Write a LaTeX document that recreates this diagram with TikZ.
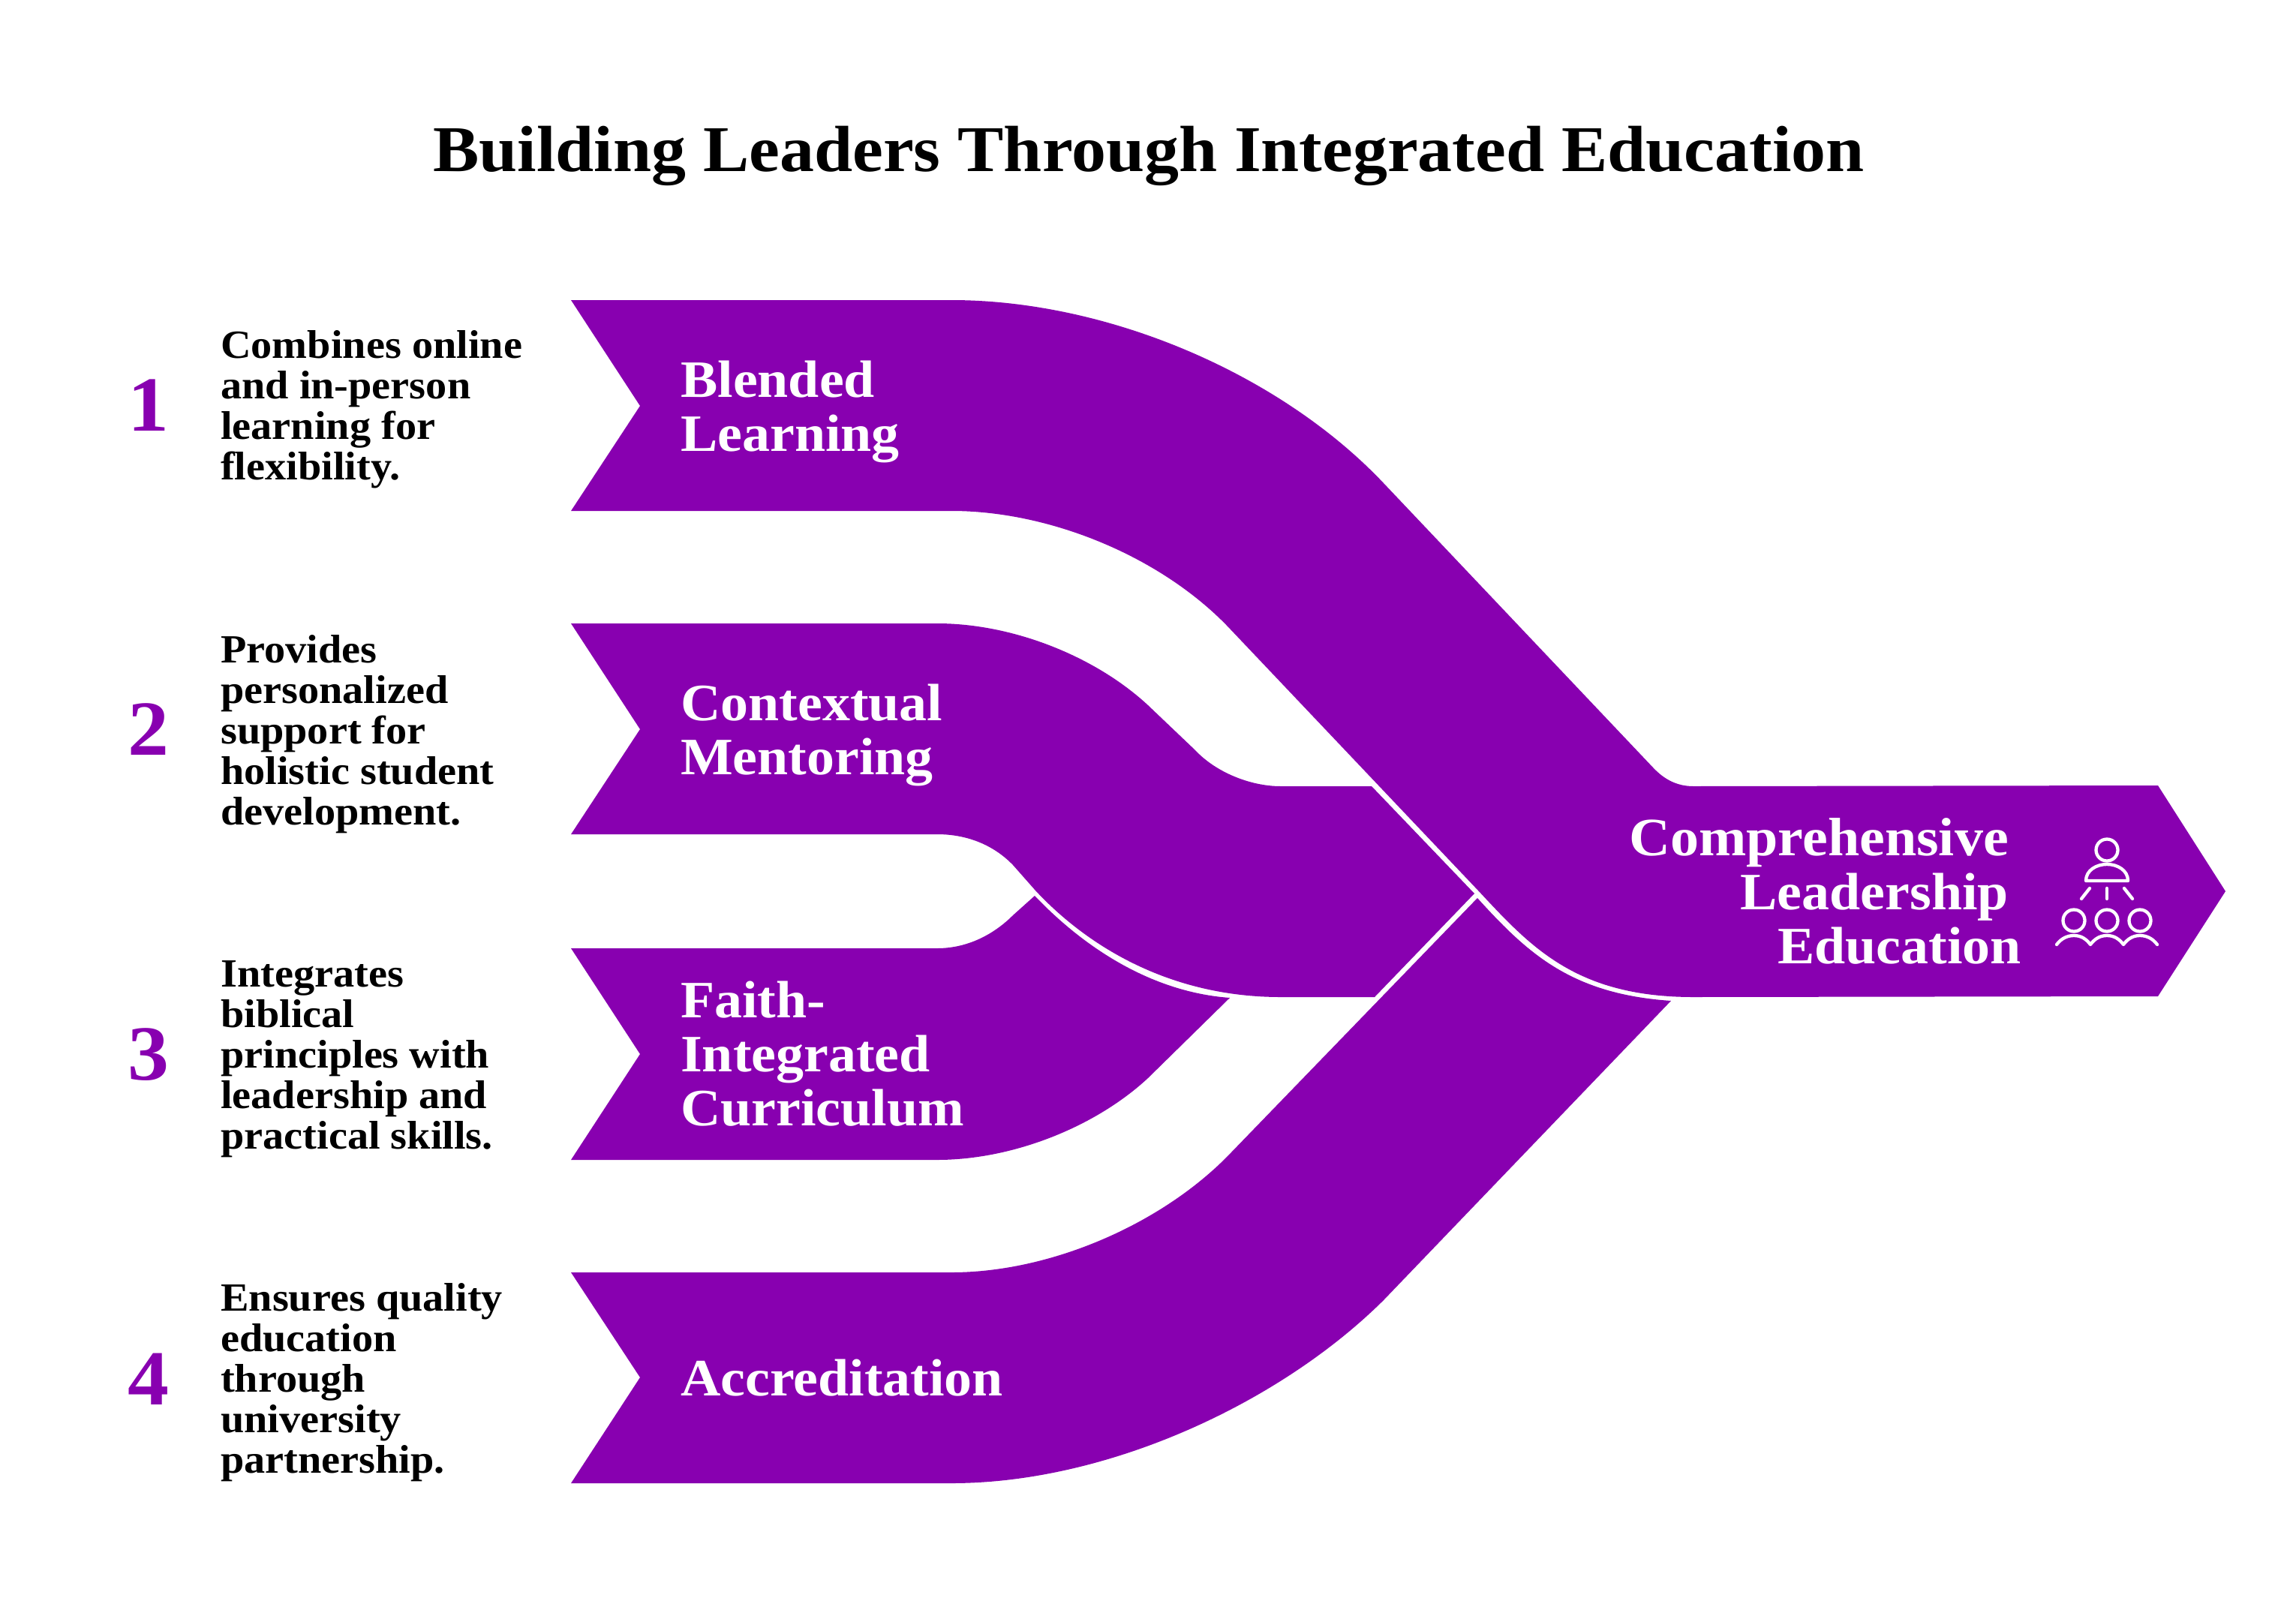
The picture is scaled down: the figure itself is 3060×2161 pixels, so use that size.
\documentclass[tikz,border=0pt]{standalone}
\usepackage{fontspec}
\setmainfont{Liberation Serif}[FakeStretch=1.056]
\definecolor{violetfill}{HTML}{8800B0}
\newcommand{\firstln}{\rule{0pt}{80pt}}
\tikzset{
  band/.style={fill=violetfill,draw=none},
  ttl/.style={inner sep=0pt,anchor=north,align=center,text=black,font=\bfseries\fontsize{87}{100}\selectfont},
  desc/.style={inner sep=0pt,anchor=north west,align=left,text=black,font=\bfseries\fontsize{53.3}{54}\selectfont},
  num/.style={inner sep=0pt,anchor=base,text=violetfill,font=\bfseries\fontsize{104}{104}\selectfont},
  lab/.style={inner sep=0pt,anchor=north west,align=left,text=white,font=\bfseries\fontsize{70}{72}\selectfont},
  labr/.style={lab,anchor=north east,align=right},
  ico/.style={draw=white,line width=4.3pt,line cap=round,line join=round}
}
\begin{document}
\begin{tikzpicture}[x=1pt,y=-1pt]
\useasboundingbox (0,0) rectangle (3060,2161);
\fill[white] (0,0) rectangle (3060,2161);
% band 3
\fill[band] (761,1264) -- (853,1405) -- (761,1546) -- (1249,1546)
  .. controls (1350,1546) and (1460,1502) .. (1530,1437) -- (1639,1330)
  .. controls (1530,1322) and (1440,1258) .. (1379,1194) -- (1350,1220)
  .. controls (1325,1245) and (1290,1264) .. (1249,1264) -- cycle;
% band 2
\fill[band] (761,831) -- (853,972) -- (761,1112) -- (1249,1112)
  .. controls (1290,1112) and (1325,1127) .. (1350,1153) -- (1380,1187)
  .. controls (1450,1262) and (1560,1329) .. (1707,1329) -- (1832,1329) -- (1965,1191) -- (1828,1048) -- (1707,1048)
  .. controls (1666,1048) and (1620,1029) .. (1593,1000) -- (1530,940)
  .. controls (1460,875) and (1350,831) .. (1249,831) -- cycle;
% band 4
\fill[band] (761,1696) -- (853,1836) -- (761,1977) -- (1268,1977)
  .. controls (1476,1977) and (1706,1870) .. (1844,1733) -- (2227,1334)
  .. controls (2095,1325) and (2037,1272) .. (1969,1197) -- (1640,1537)
  .. controls (1551,1630) and (1402,1696) .. (1268,1696) -- cycle;
% band 1 and head
\fill[band] (761,400) -- (853,541) -- (761,681) -- (1268,681)
  .. controls (1402,681) and (1551,744) .. (1640,839) -- (1970,1187)
  .. controls (2040,1262) and (2100,1329) .. (2257,1329) -- (2876,1328) -- (2966,1188) -- (2876,1047) -- (2257,1048)
  .. controls (2235,1048) and (2218,1039) .. (2203,1023) -- (1844,644)
  .. controls (1706,498) and (1476,400) .. (1268,400) -- cycle;
% title
\node[ttl] (title) at (1531,148) {\firstln Building Leaders Through Integrated Education};
% numbers
\node[num] (n1) at (198,574) {1};
\node[num] (n2) at (198,1006) {2};
\node[num] (n3) at (198,1439) {3};
\node[num] (n4) at (198,1872) {4};
% descriptions
\node[desc] (d1) at (294,397) {\firstln Combines online\\and in-person\\learning for\\flexibility.};
\node[desc] (d2) at (294,803) {\firstln Provides\\personalized\\support for\\holistic student\\development.};
\node[desc] (d3) at (294,1235) {\firstln Integrates\\biblical\\principles with\\leadership and\\practical skills.};
\node[desc] (d4) at (294,1667) {\firstln Ensures quality\\education\\through\\university\\partnership.};
% labels
\node[lab] (l1) at (907,449) {\firstln Blended\\Learning};
\node[lab] (l2) at (907,880) {\firstln Contextual\\Mentoring};
\node[lab] (l3) at (907,1276) {\firstln Faith-\\Integrated\\Curriculum};
\node[lab] (l4) at (907,1780) {\firstln Accreditation};
\node[labr] (l5) at (2694,1060) {\firstln\mbox{{\fontsize{72}{72}\selectfont Comprehensive}\hspace{17pt}}\\\mbox{Leadership\hspace{17pt}}\\Education};
% icon
\draw[ico] (2808,1133) circle (14.5);
\draw[ico] (2780,1174) .. controls (2780,1160) and (2794,1152) .. (2808,1152) .. controls (2822,1152) and (2836,1160) .. (2836,1174) -- cycle;
\draw[ico] (2774,1198) -- (2785,1184);
\draw[ico] (2808,1184) -- (2808,1198);
\draw[ico] (2831,1184) -- (2842,1198);
\draw[ico] (2764,1227) circle (14.5);
\draw[ico] (2808,1227) circle (14.5);
\draw[ico] (2852,1227) circle (14.5);
\draw[ico] (2741,1259) .. controls (2747,1251) and (2755,1247) .. (2764,1247) .. controls (2773,1247) and (2780,1251) .. (2786,1259)
  .. controls (2792,1251) and (2799,1247) .. (2808,1247) .. controls (2817,1247) and (2824,1251) .. (2830,1259)
  .. controls (2836,1251) and (2843,1247) .. (2852,1247) .. controls (2861,1247) and (2869,1251) .. (2875,1259);
\end{tikzpicture}
\end{document}
